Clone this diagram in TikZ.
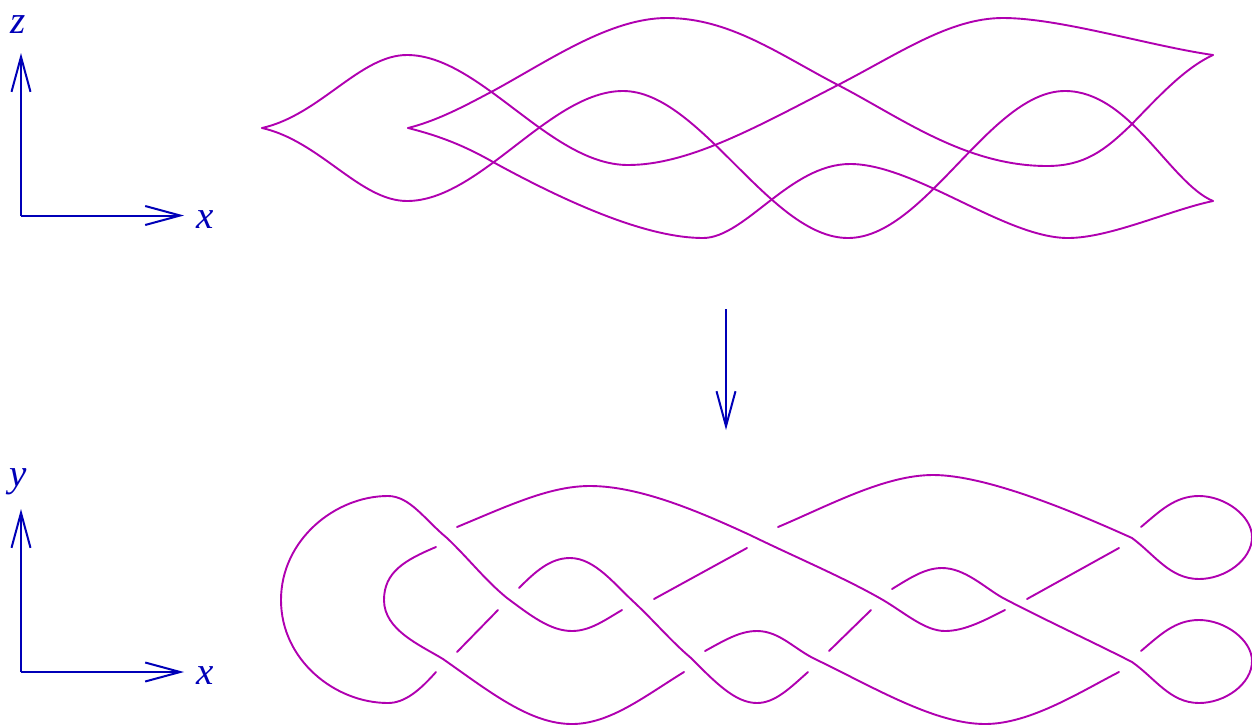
\documentclass[tikz,border=0pt]{standalone}
\usepackage{fontspec}
\setmainfont{Liberation Serif}
\usepackage{xcolor}
\usetikzlibrary{arrows.meta, positioning}
\definecolor{knot}{HTML}{B000B0}
\definecolor{axisblue}{HTML}{0000B8}

\begin{document}
\begin{tikzpicture}[
      x=1pt, y=-1pt,
      >={Straight Barb[length=35pt,width=19pt]},
      strand/.style={draw=knot, line width=1.9pt, line cap=round, line join=round},
      axis/.style={draw=axisblue, line width=2pt, ->},
      axislabel/.style={text=axisblue, font=\fontsize{39}{39}\selectfont\itshape, inner sep=0pt},
    ]
    \useasboundingbox (0,0) rectangle (1252,726);

    \coordinate (ofront) at (21,215.5);
    \coordinate (zend) at (21,53);
    \coordinate (xfront) at (184,215.5);
    \node[axislabel] (zlabel) at (18.5,24.5) {z};
    \node[axislabel] (xlabelfront) at (205.5,219.5) {x};
    \draw[axis] (ofront) -- (zend);
    \draw[axis] (ofront) -- (xfront);

    \coordinate (otop) at (726,309);
    \coordinate (obottom) at (726,430);
    \draw[axis] (otop) -- (obottom);

    \coordinate (otopview) at (21,672);
    \coordinate (yend) at (21,509);
    \coordinate (xtop) at (184,672);
    \node[axislabel] (ylabel) at (18.5,482) {y};
    \node[axislabel] (xlabeltop) at (205.5,675.5) {x};
    \draw[axis] (otopview) -- (yend);
    \draw[axis] (otopview) -- (xtop);

    \draw[strand] (262,128) .. controls (320,115) and (360,55) .. (407,55)
      .. controls (480,55) and (550,165) .. (628,165)
      .. controls (690,165) and (760,125) .. (838,85)
      .. controls (900,53) and (950,18) .. (1003,18)
      .. controls (1060,18) and (1150,46) .. (1213,55);
    \draw[strand] (262,128) .. controls (320,141) and (360,201) .. (407,201)
      .. controls (480,201) and (550,91) .. (623,91)
      .. controls (700,91) and (770,238) .. (848,238)
      .. controls (925,238) and (990,91) .. (1065,91)
      .. controls (1130,91) and (1170,183) .. (1213,201);
    \draw[strand] (408,128) .. controls (440,120) and (470,103) .. (493,91)
      .. controls (550,60) and (610,18) .. (667,18)
      .. controls (730,18) and (780,55) .. (838,85)
      .. controls (900,117) and (965,166) .. (1047,166)
      .. controls (1085,166) and (1105,150) .. (1131,125)
      .. controls (1160,95) and (1185,68) .. (1213,55);
    \draw[strand] (408,128) .. controls (440,136) and (465,146) .. (493,162)
      .. controls (575,207) and (650,238) .. (703,238)
      .. controls (745,238) and (790,164) .. (850,164)
      .. controls (915,164) and (1005,238) .. (1068,238)
      .. controls (1110,238) and (1170,210) .. (1213,201);

    \draw[strand] (436,672) .. controls (420,690) and (405,703) .. (388,703)
      .. controls (335,703) and (281,660) .. (281,600)
      .. controls (281,540) and (335,496) .. (388,496)
      .. controls (410,496) and (425,520) .. (447,538)
      .. controls (470,560) and (485,580) .. (507,598)
      .. controls (530,615) and (550,631) .. (572,631)
      .. controls (590,631) and (605,620) .. (622,610);
    \draw[strand] (457,527) .. controls (510,505) and (550,486) .. (590,486)
      .. controls (640,486) and (700,512) .. (750,535)
      .. controls (795,557) and (845,578) .. (883,600)
      .. controls (905,613) and (925,631) .. (945,631)
      .. controls (965,631) and (985,620) .. (1005,610);
    \draw[strand] (436,547) .. controls (405,560) and (384,572) .. (384,600)
      .. controls (384,630) and (420,645) .. (443,659)
      .. controls (490,692) and (530,724) .. (572,724)
      .. controls (610,724) and (645,696) .. (684,672);
    \draw[strand] (457,652) -- (498,610);
    \draw[strand] (519,588) .. controls (535,572) and (550,558) .. (570,558)
      .. controls (595,558) and (615,585) .. (636,604)
      .. controls (655,622) and (672,642) .. (691,658)
      .. controls (715,682) and (735,703) .. (757,703)
      .. controls (775,703) and (790,688) .. (808,672);
    \draw[strand] (654,599) -- (747,548);
    \draw[strand] (705,651) .. controls (725,640) and (740,631) .. (757,631)
      .. controls (780,631) and (795,650) .. (817,660)
      .. controls (875,688) and (935,724) .. (985,724)
      .. controls (1030,724) and (1080,692) .. (1119,672);
    \draw[strand] (829,651) -- (871,610);
    \draw[strand] (892,589) .. controls (910,578) and (925,568) .. (942,568)
      .. controls (965,568) and (985,588) .. (1003,598)
      .. controls (1045,620) and (1095,643) .. (1132,662)
      .. controls (1155,678) and (1170,703) .. (1199,703)
      .. controls (1225,703) and (1252,684) .. (1252,661)
      .. controls (1252,640) and (1225,620) .. (1199,620)
      .. controls (1175,620) and (1160,635) .. (1141,651);
    \draw[strand] (778,527) .. controls (830,505) and (885,475) .. (933,475)
      .. controls (985,475) and (1070,510) .. (1132,538)
      .. controls (1155,555) and (1170,579) .. (1199,579)
      .. controls (1225,579) and (1252,560) .. (1252,537)
      .. controls (1252,516) and (1225,496) .. (1199,496)
      .. controls (1175,496) and (1160,511) .. (1141,527);
    \draw[strand] (1027,599) -- (1119,548);
  \end{tikzpicture}
\end{document}
